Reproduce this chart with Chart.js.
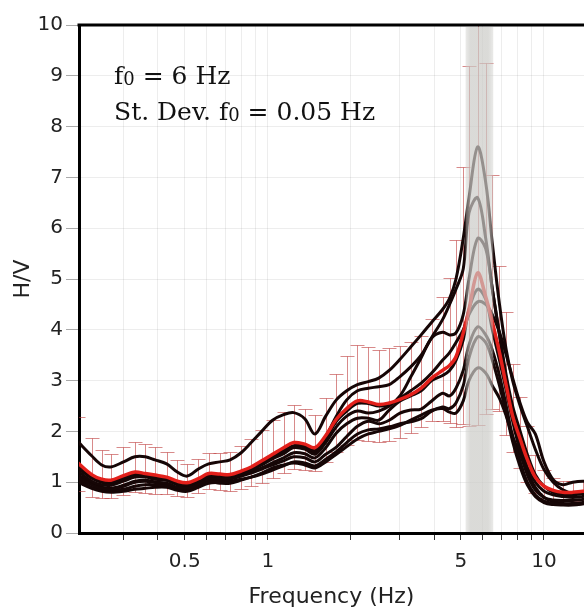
<!DOCTYPE html>
<html><head><meta charset="utf-8">
<script src="https://cdn.jsdelivr.net/npm/chart.js@4.4.0/dist/chart.umd.min.js"></script>
<style>html,body{margin:0;padding:0;background:#fff;overflow:hidden}#wrap{width:584px;height:610px}</style>
</head><body><div id="wrap"><canvas id="c" width="584" height="610"></canvas></div>
<script>
// ---- data ----
const freq = [0.205,0.23,0.25,0.27,0.30,0.33,0.36,0.39,0.43,0.47,0.51,0.56,0.61,0.67,0.73,0.80,0.87,0.95,1.04,1.14,1.24,1.36,1.48,1.62,1.77,1.93,2.11,2.31,2.52,2.75,3.01,3.29,3.59,3.92,4.29,4.55,4.80,5.10,5.35,5.75,6.15,6.50,6.90,7.30,7.70,8.20,8.70,9.30,10.0,10.8,11.7,12.7,13.8,15.0];
const meanHV = [1.38,1.15,1.06,1.04,1.13,1.20,1.17,1.14,1.10,1.02,0.99,1.07,1.17,1.16,1.15,1.22,1.30,1.42,1.55,1.68,1.78,1.75,1.68,1.92,2.24,2.45,2.60,2.58,2.53,2.56,2.63,2.72,2.85,3.05,3.20,3.30,3.47,3.94,4.40,5.12,4.65,4.15,3.55,2.90,2.30,1.85,1.45,1.10,0.92,0.84,0.80,0.80,0.82,0.83];
const stdFactor = [1.65,1.62,1.55,1.50,1.50,1.50,1.50,1.48,1.45,1.40,1.38,1.36,1.35,1.36,1.38,1.40,1.42,1.43,1.43,1.42,1.42,1.40,1.38,1.38,1.40,1.42,1.42,1.42,1.42,1.42,1.40,1.38,1.36,1.38,1.45,1.52,1.66,1.83,2.09,2.40,1.99,1.70,1.48,1.50,1.45,1.45,1.45,1.40,1.35,1.30,1.28,1.28,1.28,1.28];
const win1 = [1.80,1.52,1.34,1.30,1.40,1.50,1.50,1.44,1.36,1.20,1.12,1.26,1.36,1.40,1.44,1.58,1.78,2.00,2.22,2.33,2.37,2.25,1.95,2.30,2.62,2.80,2.92,2.98,3.05,3.20,3.42,3.66,3.90,4.15,4.40,4.62,5.00,5.80,6.60,7.60,6.90,5.70,4.50,3.60,3.00,2.50,2.10,1.65,1.25,1.00,0.85,0.78,0.78,0.80];
const win2 = [1.35,1.12,1.02,1.00,1.08,1.16,1.14,1.10,1.06,0.98,0.95,1.05,1.15,1.14,1.14,1.20,1.28,1.40,1.52,1.62,1.72,1.72,1.62,1.90,2.30,2.62,2.80,2.85,2.88,2.92,3.08,3.27,3.50,3.85,4.20,4.50,4.80,5.20,6.30,6.60,5.80,4.80,3.90,3.10,2.50,2.00,1.55,1.15,0.92,0.80,0.76,0.75,0.77,0.80];
const win3 = [1.22,1.02,0.95,0.94,1.02,1.10,1.10,1.06,1.04,0.96,0.94,1.02,1.12,1.12,1.12,1.18,1.24,1.34,1.46,1.56,1.68,1.65,1.55,1.78,2.09,2.30,2.40,2.36,2.40,2.50,2.70,3.07,3.45,3.84,3.95,3.90,3.94,4.30,5.00,5.80,5.60,4.80,3.90,3.00,2.30,1.75,1.30,1.00,0.82,0.75,0.72,0.70,0.72,0.75];
const win4 = [1.10,0.95,0.88,0.86,0.92,1.00,1.02,1.00,0.98,0.90,0.88,0.96,1.06,1.06,1.08,1.14,1.20,1.28,1.38,1.48,1.58,1.56,1.48,1.68,1.97,2.15,2.26,2.26,2.22,2.42,2.60,2.70,2.80,3.00,3.10,3.20,3.40,3.80,4.40,4.80,4.60,4.00,3.40,2.80,2.20,1.60,1.15,0.85,0.70,0.65,0.64,0.64,0.66,0.68];
const win5 = [1.05,0.90,0.85,0.84,0.86,0.92,0.95,0.95,0.94,0.88,0.86,0.94,1.02,1.04,1.06,1.12,1.18,1.26,1.34,1.42,1.50,1.48,1.40,1.55,1.69,1.90,2.10,2.20,2.15,2.22,2.36,2.42,2.44,2.60,2.75,2.70,2.85,3.20,3.70,4.06,3.90,3.60,3.10,2.50,1.90,1.40,1.00,0.75,0.63,0.58,0.57,0.58,0.60,0.62];
const win6 = [1.00,0.88,0.82,0.80,0.82,0.86,0.88,0.90,0.90,0.84,0.82,0.90,0.98,1.00,1.02,1.06,1.10,1.16,1.24,1.32,1.40,1.38,1.32,1.45,1.60,1.78,1.95,2.03,2.05,2.09,2.15,2.19,2.25,2.40,2.48,2.45,2.56,2.90,3.45,3.86,3.75,3.40,2.90,2.35,1.80,1.30,0.95,0.72,0.60,0.56,0.55,0.55,0.57,0.60];
const win7 = [1.15,0.98,0.90,0.88,0.94,1.02,1.04,1.00,0.96,0.86,0.84,0.92,1.00,0.98,0.98,1.04,1.10,1.18,1.28,1.34,1.38,1.34,1.28,1.40,1.55,1.70,1.85,1.95,2.00,2.05,2.12,2.22,2.32,2.42,2.45,2.38,2.36,2.60,3.00,3.25,3.15,2.90,2.65,2.30,1.90,1.55,1.20,0.90,0.70,0.62,0.58,0.56,0.58,0.60];
const win8 = [1.28,1.08,1.00,0.98,1.05,1.12,1.12,1.08,1.04,0.95,0.92,1.00,1.10,1.10,1.10,1.16,1.24,1.36,1.48,1.60,1.70,1.68,1.60,1.85,2.20,2.40,2.55,2.55,2.50,2.52,2.65,2.80,2.95,3.15,3.40,3.55,3.75,4.00,4.30,4.55,4.50,4.30,3.95,3.50,3.05,2.55,2.18,1.95,1.40,1.05,0.95,1.00,1.02,1.00];
const yTicks = [0,1,2,3,4,5,6,7,8,9,10];
const xGridValues = [0.3,0.4,0.5,0.6,0.7,0.8,0.9,1,2,3,4,5,6,7,8,9,10];
const xTickLabels = [0.5,1,5,10];
const f0Band = [5.2,6.55];
const xRange = [0.207,13.96];
const annotF0 = '6 Hz';
const annotStd = '0.05 Hz';
const xTitle = 'Frequency (Hz)';
const yTitle = 'H/V';

// ---- chart ----
const toXY = arr => arr.map((v,i)=>({x:freq[i], y:v}));
const windows = [win1,win2,win3,win4,win5,win6,win7,win8];
const datasets = [{data:toXY(meanHV), borderColor:'#e3201b', borderWidth:3.5, pointRadius:0, tension:0.35}];
windows.forEach(w=>datasets.push({data:toXY(w), borderColor:'#160606', borderWidth:3, pointRadius:0, tension:0.35}));

const errBars = {id:'errBars', beforeDatasetsDraw(chart){
  const {ctx, chartArea:a, scales:{x,y}} = chart;
  ctx.save(); ctx.beginPath(); ctx.rect(a.left,a.top,a.width,a.height); ctx.clip();
  ctx.strokeStyle='rgba(190,60,60,0.6)'; ctx.lineWidth=1;
  freq.forEach((f,i)=>{
    const px=Math.round(x.getPixelForValue(f))+0.5;
    const hi=Math.round(y.getPixelForValue(meanHV[i]*stdFactor[i]))+0.5;
    const lo=Math.round(y.getPixelForValue(meanHV[i]/stdFactor[i]))+0.5;
    ctx.beginPath();
    ctx.moveTo(px,hi); ctx.lineTo(px,lo);
    ctx.moveTo(px-7,hi); ctx.lineTo(px+7,hi);
    ctx.moveTo(px-7,lo); ctx.lineTo(px+7,lo);
    ctx.stroke();
  });
  ctx.restore();
}};
const band = {id:'band', afterDatasetsDraw(chart){
  const {ctx, chartArea:a, scales:{x}} = chart;
  const x0=x.getPixelForValue(f0Band[0]), x1=x.getPixelForValue(f0Band[1]);
  const g=ctx.createLinearGradient(x0,0,x1,0);
  g.addColorStop(0,'rgba(203,203,199,0.4)');
  g.addColorStop(0.18,'rgba(203,203,199,0.7)');
  g.addColorStop(0.82,'rgba(203,203,199,0.7)');
  g.addColorStop(1,'rgba(203,203,199,0.4)');
  ctx.save(); ctx.fillStyle=g;
  ctx.fillRect(x0, a.top+2, x1-x0, a.bottom-a.top-3);
  ctx.restore();
}};
const frame = {id:'frame', afterDraw(chart){
  const {ctx, chartArea:a} = chart;
  ctx.save();
  ctx.strokeStyle='#000'; ctx.lineWidth=3;
  ctx.beginPath(); ctx.moveTo(a.left-1.5,a.top); ctx.lineTo(a.right,a.top); ctx.stroke();
  ctx.fillStyle='#111'; ctx.textBaseline='alphabetic';
  const big='25px "DejaVu Serif"', small='18px "DejaVu Serif"';
  function line(prefix, rest, xx, yy){
    ctx.font=big; ctx.fillText(prefix, xx, yy); xx+=ctx.measureText(prefix).width;
    ctx.fillText('f', xx, yy); xx+=ctx.measureText('f').width;
    ctx.font=small; ctx.fillText('0', xx, yy+1); xx+=ctx.measureText('0').width;
    ctx.font=big; ctx.fillText(' = '+rest, xx, yy);
  }
  line('', annotF0, a.left+35, 84);
  line('St. Dev. ', annotStd, a.left+35, 120);
  ctx.restore();
}};

Chart.defaults.font.family='"DejaVu Sans"';
Chart.defaults.color='#222';
new Chart(document.getElementById('c'), {
  type:'line',
  data:{datasets},
  options:{
    responsive:false, animation:false, devicePixelRatio:1,
    layout:{padding:{top:25,right:0,left:0,bottom:0}},
    plugins:{legend:{display:false}, tooltip:{enabled:false}},
    scales:{
      x:{type:'logarithmic', min:xRange[0], max:xRange[1],
        afterBuildTicks(s){ s.ticks = xGridValues.map(v=>({value:v})); },
        afterFit(s){ s.height = 77; },
        ticks:{autoSkip:false, maxRotation:0, padding:10, font:{size:20}, color:'#222',
          callback:(v)=> xTickLabels.includes(v) ? String(v) : ''},
        grid:{color:'rgba(0,0,0,0.07)', tickLength:7, tickColor:'#333', lineWidth:1},
        border:{color:'#000', width:3},
        title:{display:true, text:xTitle, font:{size:22}, color:'#222', padding:{top:0,bottom:0}}
      },
      y:{min:0, max:10,
        afterBuildTicks(s){ s.ticks = yTicks.map(v=>({value:v})); },
        afterFit(s){ s.width = 79; },
        ticks:{padding:3, font:{size:20}, color:'#222'},
        grid:{color:'rgba(0,0,0,0.07)', tickLength:13, tickColor:'#aaa', lineWidth:1},
        border:{color:'#000', width:3},
        title:{display:true, text:yTitle, font:{size:22}, color:'#222', padding:{top:10,bottom:0}}
      }
    }
  },
  plugins:[errBars, band, frame]
});
</script></body></html>
